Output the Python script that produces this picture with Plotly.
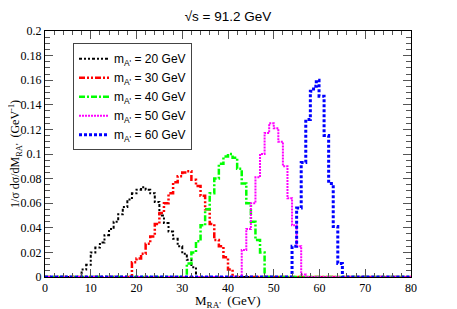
import plotly.graph_objects as go

# bin left edges (GeV) and heights for each mass hypothesis
edges_20 = [0, 7, 8, 9, 10, 11, 12, 13, 14, 15, 16, 17, 18, 19, 20, 21, 22, 23, 24, 25, 26, 27, 28, 29, 30, 31, 32, 33, 80]
vals_20 = [0, 0, 0.006, 0.010, 0.020, 0.024, 0.028, 0.034, 0.039, 0.045, 0.051, 0.057, 0.063, 0.068, 0.071, 0.073,
           0.071, 0.068, 0.061, 0.050, 0.044, 0.037, 0.031, 0.025, 0.019, 0.014, 0.008, 0, 0]

edges_30 = [0, 19, 20, 21, 22, 23, 24, 25, 26, 27, 28, 29, 30, 31, 32, 33, 34, 35, 36, 37, 38, 39, 40, 41, 80]
vals_30 = [0, 0.012, 0.015, 0.019, 0.027, 0.033, 0.043, 0.052, 0.060, 0.068, 0.077, 0.082, 0.085, 0.086,
           0.079, 0.074, 0.066, 0.055, 0.043, 0.030, 0.025, 0.016, 0.006, 0, 0]

edges_40 = [0, 31, 32, 33, 34, 35, 36, 37, 38, 39, 40, 41, 42, 43, 44, 45, 46, 47, 48, 80]
vals_40 = [0, 0.011, 0.020, 0.029, 0.042, 0.055, 0.068, 0.080, 0.092, 0.098, 0.100, 0.097, 0.088, 0.076,
           0.060, 0.045, 0.030, 0.020, 0, 0]

edges_50 = [0, 43, 44, 45, 46, 47, 48, 49, 50, 51, 52, 53, 54, 55, 56, 57, 80]
vals_50 = [0, 0.022, 0.039, 0.060, 0.081, 0.100, 0.117, 0.125, 0.121, 0.110, 0.090, 0.064, 0.042, 0.025,
           0.002, 0, 0]

edges_60 = [0, 54, 55, 56, 57, 58, 58.7, 59.3, 59.9, 61, 62, 63, 64, 65, 80]
vals_60 = [0, 0.025, 0.056, 0.093, 0.128, 0.151, 0.155, 0.160, 0.147, 0.115, 0.076, 0.041, 0.011, 0, 0]

labels = ["m<sub>A'</sub> = 20 GeV", "m<sub>A'</sub> = 30 GeV", "m<sub>A'</sub> = 40 GeV",
          "m<sub>A'</sub> = 50 GeV", "m<sub>A'</sub> = 60 GeV"]

x_ticks = [0, 10, 20, 30, 40, 50, 60, 70, 80]
y_ticks = [0, 0.02, 0.04, 0.06, 0.08, 0.1, 0.12, 0.14, 0.16, 0.18, 0.2]
y_tick_text = ["0", "0.02", "0.04", "0.06", "0.08", "0.1", "0.12", "0.14", "0.16", "0.18", "0.2"]

x_title = "M<sub>RA'</sub>  (GeV)"
y_title = "1/σ dσ/dM<sub>RA'</sub>  (GeV<sup>-1</sup>)"

series = [
    (edges_20, vals_20, "black", "3px,2px,2px,2px,2px,2px", 2),
    (edges_30, vals_30, "#ff0000", "6px,2px,2px,2px,2px,2px", 2.5),
    (edges_40, vals_40, "#00ff00", "6px,2px,2px,2px", 2.5),
    (edges_50, vals_50, "#ff00ff", "2px,1px", 2),
    (edges_60, vals_60, "#0000ff", "3px,2px", 3),
]

fig = go.Figure()
for (xe, yv, col, dash, w), lab in zip(series, labels):
    fig.add_trace(go.Scatter(x=xe, y=yv, mode="lines", line=dict(shape="hv", color=col, dash=dash, width=w),
                             name=lab))

serif = "Liberation Serif"
sans = "Liberation Sans"
# the page body has an 8px margin, so the figure is sized/offset to compensate
fig.update_layout(
    width=449, height=301,
    margin=dict(l=37, r=46, t=23, b=32, autoexpand=False),
    paper_bgcolor="white", plot_bgcolor="white",
    title=dict(text="√s = 91.2 GeV", x=0.5, xanchor="center", xref="paper", y=0.974, yanchor="middle",
               font=dict(family=sans, size=13.5, color="black")),
    showlegend=True,
    legend=dict(x=0.0765, y=0.95, xanchor="left", yanchor="top", bgcolor="white",
                bordercolor="#444", borderwidth=1, font=dict(family=sans, size=12, color="black"),
                itemwidth=30, tracegroupgap=0),
    xaxis=dict(range=[0, 80], tickvals=x_ticks, ticks="inside", ticklen=8, tickcolor="#555",
               automargin=False,
               showline=True, linecolor="black", linewidth=1, mirror="ticks", showgrid=False, zeroline=False,
               tickfont=dict(family=serif, size=12, color="black"),
               minor=dict(dtick=2, ticks="inside", ticklen=4, tickcolor="#555")),
    yaxis=dict(range=[0, 0.2], tickvals=y_ticks, ticktext=y_tick_text, ticks="inside", ticklen=8, tickcolor="#555",
               automargin=False,
               showline=True, linecolor="black", linewidth=1, mirror="ticks", showgrid=False, zeroline=False,
               tickfont=dict(family=serif, size=12, color="black"),
               minor=dict(dtick=0.005, ticks="inside", ticklen=5, tickcolor="#555")),
    annotations=[
        dict(text=x_title, xref="paper", yref="paper", x=0.5, y=0, xanchor="center", yanchor="middle",
             yshift=-24, showarrow=False, font=dict(family=serif, size=13, color="black")),
        dict(text=y_title, xref="paper", yref="paper", x=0, y=0.5, xanchor="center", yanchor="middle",
             xshift=-30, textangle=-90, showarrow=False, font=dict(family=serif, size=12, color="black")),
    ],
)

fig.write_html("out.html")
